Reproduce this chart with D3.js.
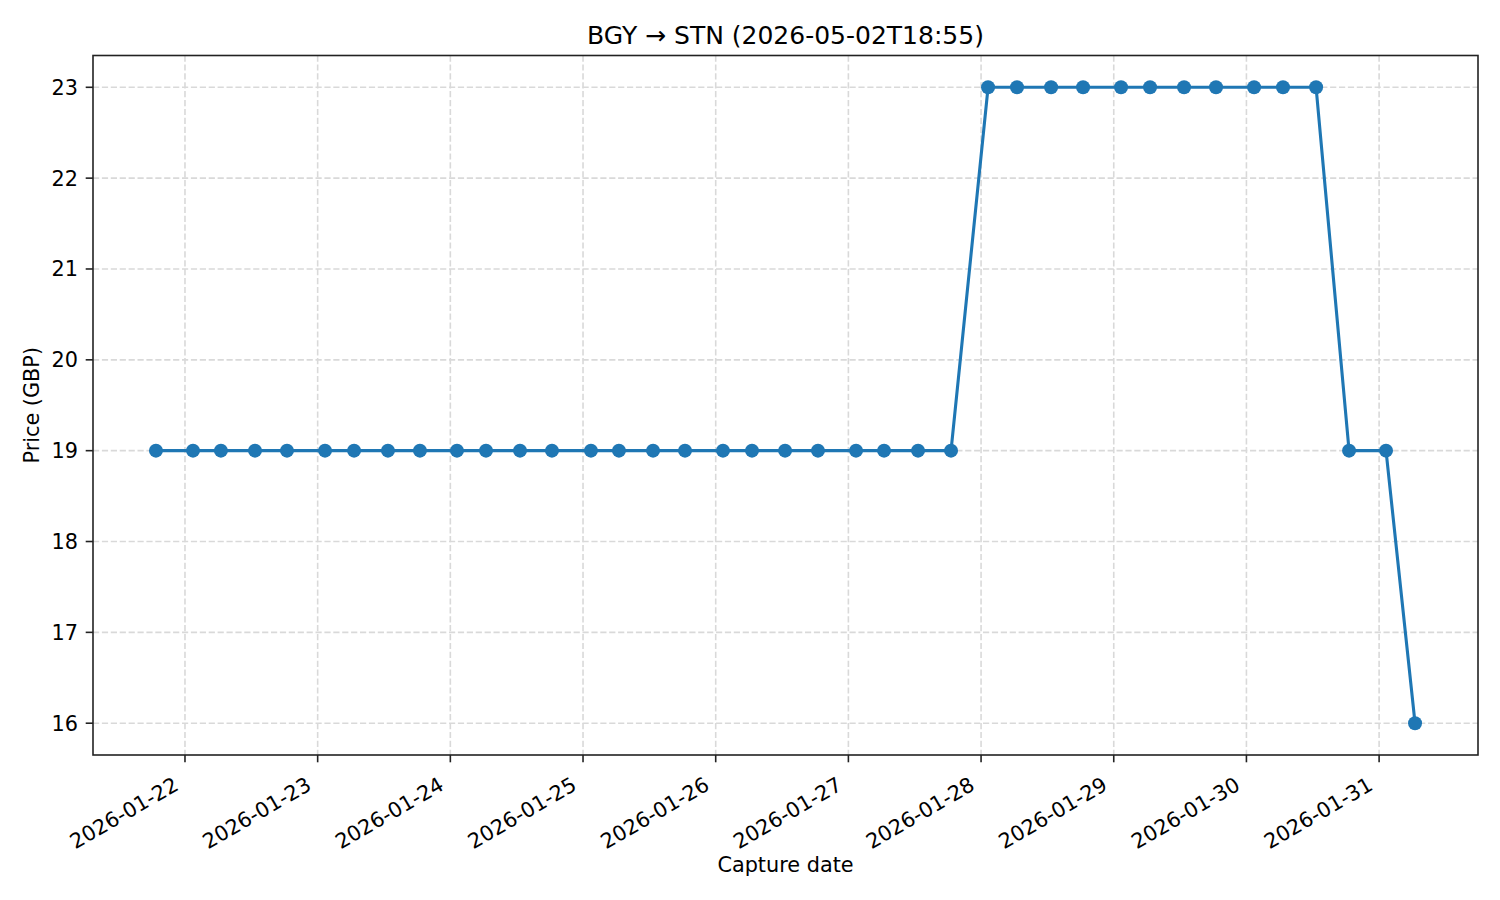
<!DOCTYPE html>
<html>
<head>
<meta charset="utf-8">
<script src="https://cdn.jsdelivr.net/npm/d3@7"></script>
<style>
  body { margin: 0; background: #fff; }
  text { font-family: "DejaVu Sans", sans-serif; fill: #000; }
  .grid line { stroke: #d9d9d9; stroke-width: 1.6; stroke-dasharray: 6.2 2.7; }
</style>
</head>
<body>
<div class="container"></div>
<script>
const WIDTH = 1500;
const HEIGHT = 900;
const LEFT = 93, RIGHT = 1478, TOP = 55.5, BOTTOM = 755;

const title = "BGY \u2192 STN (2026-05-02T18:55)";
const xLabel = "Capture date";
const yLabel = "Price (GBP)";

const captureTimes = [
  "2026-01-21T18:45", "2026-01-22T01:27", "2026-01-22T06:30", "2026-01-22T12:40", "2026-01-22T18:27",
  "2026-01-23T01:20", "2026-01-23T06:35", "2026-01-23T12:43", "2026-01-23T18:30",
  "2026-01-24T01:12", "2026-01-24T06:27", "2026-01-24T12:36", "2026-01-24T18:23",
  "2026-01-25T01:26", "2026-01-25T06:30", "2026-01-25T12:40", "2026-01-25T18:27",
  "2026-01-26T01:19", "2026-01-26T06:34", "2026-01-26T12:33", "2026-01-26T18:30",
  "2026-01-27T01:23", "2026-01-27T06:27", "2026-01-27T12:36", "2026-01-27T18:34",
  "2026-01-28T01:16", "2026-01-28T06:30", "2026-01-28T12:40", "2026-01-28T18:27",
  "2026-01-29T01:19", "2026-01-29T06:34", "2026-01-29T12:43", "2026-01-29T18:30",
  "2026-01-30T01:23", "2026-01-30T06:37", "2026-01-30T12:36", "2026-01-30T18:34",
  "2026-01-31T01:15", "2026-01-31T06:30"
];
const prices = [
  19, 19, 19, 19, 19,
  19, 19, 19, 19,
  19, 19, 19, 19,
  19, 19, 19, 19,
  19, 19, 19, 19,
  19, 19, 19, 19,
  23, 23, 23, 23,
  23, 23, 23, 23,
  23, 23, 23, 19,
  19, 16
];
const yTicks = [16, 17, 18, 19, 20, 21, 22, 23];

var parseTime = d3.utcParse("%Y-%m-%dT%H:%M");
var data = captureTimes.map(function(t, i){
    return {date: parseTime(t), price: prices[i]};
});

var draw = function(){
    var svg = d3.select(".container").append("svg")
        .attr("width", WIDTH)
        .attr("height", HEIGHT);

    // matplotlib style 5% margins
    var tExt = d3.extent(data, d => d.date);
    var tPad = (tExt[1] - tExt[0]) * 0.05;
    var pExt = d3.extent(data, d => d.price);
    var pPad = (pExt[1] - pExt[0]) * 0.05;

    var xScale = d3.scaleUtc()
        .domain([new Date(+tExt[0] - tPad), new Date(+tExt[1] + tPad)])
        .range([LEFT, RIGHT]);
    var yScale = d3.scaleLinear()
        .domain([pExt[0] - pPad, pExt[1] + pPad])
        .range([BOTTOM, TOP]);

    var dayTicks = xScale.ticks(d3.utcDay.every(1));
    var fmt = d3.utcFormat("%Y-%m-%d");

    // grid
    var grid = svg.append("g").classed("grid", true);
    grid.selectAll(".gx").data(dayTicks).enter().append("line")
        .attr("x1", d => xScale(d)).attr("x2", d => xScale(d))
        .attr("y1", TOP).attr("y2", BOTTOM);
    grid.selectAll(".gy").data(yTicks).enter().append("line")
        .attr("x1", LEFT).attr("x2", RIGHT)
        .attr("y1", d => yScale(d)).attr("y2", d => yScale(d));

    // line + markers
    var line = d3.line().x(d => xScale(d.date)).y(d => yScale(d.price));
    svg.append("path")
        .datum(data)
        .attr("d", line)
        .attr("fill", "none")
        .attr("stroke", "#1f77b4")
        .attr("stroke-width", 3.1)
        .attr("stroke-linejoin", "round");
    svg.selectAll(".dot").data(data).enter().append("circle")
        .attr("cx", d => xScale(d.date))
        .attr("cy", d => yScale(d.price))
        .attr("r", 7)
        .attr("fill", "#1f77b4");

    // frame
    svg.append("rect")
        .attr("x", LEFT).attr("y", TOP)
        .attr("width", RIGHT - LEFT).attr("height", BOTTOM - TOP)
        .attr("fill", "none").attr("stroke", "#222").attr("stroke-width", 1.6);

    // x axis
    var xAxis = svg.append("g");
    xAxis.selectAll("line").data(dayTicks).enter().append("line")
        .attr("x1", d => xScale(d)).attr("x2", d => xScale(d))
        .attr("y1", BOTTOM).attr("y2", BOTTOM + 7.3)
        .attr("stroke", "#222").attr("stroke-width", 1.6);
    xAxis.selectAll("text").data(dayTicks).enter().append("text")
        .attr("transform", d => "translate(" + (xScale(d) - 5) + "," + (BOTTOM + 34) + ") rotate(-30)")
        .attr("text-anchor", "end")
        .attr("font-size", "20.8px")
        .text(d => fmt(d));

    // y axis
    var yAxis = svg.append("g");
    yAxis.selectAll("line").data(yTicks).enter().append("line")
        .attr("x1", LEFT - 7.3).attr("x2", LEFT)
        .attr("y1", d => yScale(d)).attr("y2", d => yScale(d))
        .attr("stroke", "#222").attr("stroke-width", 1.6);
    yAxis.selectAll("text").data(yTicks).enter().append("text")
        .attr("x", LEFT - 15)
        .attr("y", d => yScale(d))
        .attr("dy", "0.36em")
        .attr("text-anchor", "end")
        .attr("font-size", "20.8px")
        .text(d => d);

    // labels
    svg.append("text")
        .attr("x", (LEFT + RIGHT) / 2).attr("y", 44)
        .attr("text-anchor", "middle")
        .attr("font-size", "25px")
        .text(title);
    svg.append("text")
        .attr("x", (LEFT + RIGHT) / 2).attr("y", 872)
        .attr("text-anchor", "middle")
        .attr("font-size", "20.8px")
        .text(xLabel);
    svg.append("text")
        .attr("transform", "translate(39," + ((TOP + BOTTOM) / 2) + ") rotate(-90)")
        .attr("text-anchor", "middle")
        .attr("font-size", "20.8px")
        .text(yLabel);
}

window.onload = draw;
</script>
</body>
</html>
